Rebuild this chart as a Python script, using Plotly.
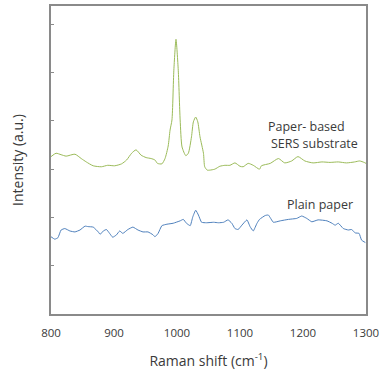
import plotly.graph_objects as go

# Paper-based SERS substrate spectrum (green)
sers_shift = [800, 808, 816, 824, 838, 848, 856, 867, 880, 890, 901, 912, 920, 928, 935, 943,
              951, 959, 965, 969, 976, 981, 986, 989, 992, 995, 998.4, 1002, 1005, 1008, 1014,
              1018, 1023, 1026, 1029.7, 1033, 1036.5, 1042, 1044, 1048, 1052, 1060, 1068, 1076,
              1084, 1092, 1100, 1105, 1113, 1121, 1131, 1134, 1148, 1161, 1171, 1182, 1192, 1203,
              1216, 1230, 1243, 1256, 1269, 1282, 1290, 1297, 1300]
sers_int = [3.26, 3.33, 3.30, 3.27, 3.31, 3.22, 3.15, 3.07, 3.05, 3.08, 3.07, 3.11, 3.19, 3.33, 3.40, 3.29,
            3.24, 3.22, 3.19, 3.12, 3.11, 3.22, 3.48, 3.81, 4.02, 5.05, 5.69, 5.05, 4.02, 3.46, 3.28,
            3.33, 3.67, 3.98, 4.08, 3.98, 3.67, 3.33, 3.05, 2.98, 2.98, 3.00, 3.06, 3.08,
            3.08, 3.13, 3.06, 3.05, 3.12, 3.08, 3.00, 3.07, 3.12, 3.22, 3.13, 3.17, 3.26, 3.17,
            3.13, 3.15, 3.14, 3.15, 3.13, 3.15, 3.17, 3.14, 3.12]

# Plain paper spectrum (blue)
plain_shift = [800, 806, 811, 816, 822, 830, 838, 846, 854, 859, 867, 875, 878, 883, 888, 893,
               898, 904, 909, 914, 922, 930, 938, 946, 954, 962, 965, 970, 976, 984, 994, 1005,
               1010, 1015, 1021, 1025, 1029.7, 1034, 1039, 1047, 1058, 1066, 1074, 1081, 1087,
               1092, 1097, 1103, 1111, 1116, 1121, 1127, 1131, 1140, 1145, 1153, 1164, 1177, 1190,
               1198, 1206, 1214, 1224, 1238, 1246, 1251, 1256, 1264, 1272, 1277, 1283, 1289, 1293, 1299]
plain_int = [1.60, 1.55, 1.58, 1.74, 1.77, 1.72, 1.70, 1.74, 1.82, 1.81, 1.80, 1.70, 1.65, 1.72, 1.75, 1.67,
             1.59, 1.64, 1.72, 1.67, 1.75, 1.80, 1.74, 1.70, 1.70, 1.64, 1.60, 1.67, 1.83, 1.86, 1.88, 1.93,
             1.96, 1.88, 1.83, 2.01, 2.15, 2.05, 1.90, 1.89, 1.90, 1.89, 1.90, 1.95, 1.88,
             1.77, 1.75, 1.84, 1.95, 1.81, 1.72, 1.88, 1.96, 2.04, 2.05, 1.90, 1.93, 1.96, 1.98,
             2.03, 1.98, 1.91, 1.95, 1.93, 1.88, 1.84, 1.88, 1.77, 1.74, 1.75, 1.68, 1.67, 1.53, 1.48]

x_ticks = [800, 900, 1000, 1100, 1200, 1300]
x_minor_step = 50
y_ticks = [1, 2, 3, 4, 5, 6]

FONT = "Open Sans"
TXT = "#3a3a3a"
AX = "#8a8a8a"

fig = go.Figure()
fig.add_trace(go.Scatter(x=sers_shift, y=sers_int, mode="lines",
                         line=dict(color="#9bbb59", width=1, shape="spline", smoothing=0.6),
                         showlegend=False))
fig.add_trace(go.Scatter(x=plain_shift, y=plain_int, mode="lines",
                         line=dict(color="#4f81bd", width=1, shape="spline", smoothing=0.4),
                         showlegend=False))

fig.update_layout(
    width=380, height=371,
    margin=dict(l=51, r=14, t=6, b=57),
    paper_bgcolor="white", plot_bgcolor="white",
    font=dict(family=FONT, color=TXT, size=12),
    # secondary axis only to draw the inward tick marks every 50 cm-1
    xaxis2=dict(overlaying="x", side="bottom", range=[800, 1300], dtick=x_minor_step, tick0=800,
                ticks="inside", ticklen=3, tickcolor=AX, showticklabels=False,
                showgrid=False, zeroline=False, showline=False),
)
fig.update_xaxes(selector=dict(anchor="y"))
fig.update_layout(xaxis=dict(
    range=[800, 1300], tickvals=x_ticks, ticks="outside", ticklen=7,
    tickcolor="rgba(0,0,0,0)", showline=True, linecolor=AX, linewidth=1.5, mirror=True,
    showgrid=False, zeroline=False, tickfont=dict(size=11.5, color=TXT), automargin=False,
    title=dict(text="Raman shift (cm<sup>-1</sup>)", font=dict(size=14, color=TXT), standoff=18)))
fig.update_layout(yaxis=dict(
    range=[0, 6.38], tickvals=y_ticks, ticks="inside", ticklen=3,
    tickcolor=AX, showline=True, linecolor=AX, linewidth=1.5, mirror=True,
    showgrid=False, zeroline=False, showticklabels=False, automargin=False,
    title=dict(text="Intensity (a.u.)", font=dict(size=14, color=TXT), standoff=22)))

fig.add_annotation(text="Paper- based", xref="paper", yref="paper", x=0.81, y=0.61,
                   xanchor="center", yanchor="middle",
                   showarrow=False, font=dict(size=12.5, color=TXT))
fig.add_annotation(text="SERS substrate", xref="paper", yref="paper", x=0.835, y=0.555,
                   xanchor="center", yanchor="middle",
                   showarrow=False, font=dict(size=12.5, color=TXT))
fig.add_annotation(text="Plain paper", xref="paper", yref="paper", x=0.854, y=0.354,
                   xanchor="center", yanchor="middle",
                   showarrow=False, font=dict(size=12.5, color=TXT))

fig.write_html("out.html", config={"displayModeBar": False},
               post_script="document.body.style.margin='0';")
